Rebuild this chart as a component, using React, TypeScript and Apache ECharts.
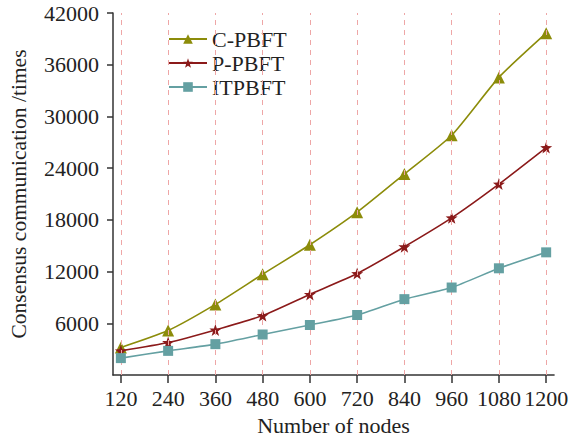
import React, { useEffect, useRef } from "react";
import * as echarts from "echarts";

const nodes = [120, 240, 360, 480, 600, 720, 840, 960, 1080, 1200];
const cPbft = [3200, 5160, 8190, 11690, 15110, 18890, 23310, 27810, 34530, 39660];
const pPbft = [2800, 3770, 5230, 6890, 9350, 11770, 14880, 18230, 22150, 26390];
const itPbft = [1960, 2800, 3580, 4700, 5800, 6960, 8800, 10150, 12380, 14230];
const yTicks = [6000, 12000, 18000, 24000, 30000, 36000, 42000];

const STAR =
  "path://M0,-10 L2.35,-3.24 L9.51,-3.09 L3.8,1.24 L5.88,8.09 L0,4 L-5.88,8.09 L-3.8,1.24 L-9.51,-3.09 L-2.35,-3.24 Z";

const FONT = "Liberation Serif";

export default function App() {
  const ref = useRef<HTMLDivElement>(null);
  useEffect(() => {
    if (!ref.current) return;
    const chart = echarts.init(ref.current, null, { renderer: "svg" });
    const pair = (arr: number[]) => nodes.map((n, i) => [n, arr[i]]);
    chart.setOption({
      animation: false,
      backgroundColor: "#fff",
      textStyle: { fontFamily: FONT },
      grid: { left: 104, right: 13, top: 13, bottom: 69 },
      legend: {
        left: 163,
        top: 23,
        orient: "vertical",
        itemWidth: 38,
        itemHeight: 12,
        itemGap: 2,
        textStyle: { fontFamily: FONT, fontSize: 22, color: "#222" },
        data: ["C-PBFT", "P-PBFT", "ITPBFT"],
      },
      xAxis: {
        type: "value",
        min: 100,
        max: 1220,
        name: "Number of nodes",
        nameLocation: "middle",
        nameGap: 39,
        nameTextStyle: { fontFamily: FONT, fontSize: 22, color: "#222" },
        axisLine: { lineStyle: { color: "#333", width: 1.5 } },
        axisTick: { customValues: nodes, length: 8, lineStyle: { color: "#333", width: 1.5 } },
        axisLabel: {
          customValues: nodes,
          margin: 12,
          fontFamily: FONT,
          fontSize: 22,
          color: "#222",
          formatter: (v: number) => String(v),
        },
        splitLine: { show: false },
      },
      yAxis: {
        type: "value",
        min: 0,
        max: 42000,
        interval: 6000,
        name: "Consensus communication /times",
        nameLocation: "middle",
        nameGap: 83,
        nameTextStyle: { fontFamily: FONT, fontSize: 21.5, color: "#222" },
        axisLine: { show: true, lineStyle: { color: "#333", width: 1.5 } },
        axisTick: { show: true, customValues: yTicks, length: 6, lineStyle: { color: "#333", width: 1.5 } },
        axisLabel: {
          customValues: yTicks,
          margin: 14,
          fontFamily: FONT,
          fontSize: 22,
          color: "#222",
          formatter: (v: number) => String(v),
        },
        splitLine: { show: false },
      },
      series: [
        {
          name: "C-PBFT",
          type: "line",
          data: pair(cPbft),
          smooth: 0.2,
          symbol: "triangle",
          symbolSize: 12,
          color: "#8c8c0a",
          lineStyle: { width: 1.6, color: "#8c8c0a" },
          itemStyle: { color: "#8c8c0a" },
          markLine: {
            silent: true,
            symbol: "none",
            label: { show: false },
            lineStyle: { type: [5, 5], color: "#eea6a6", width: 1 },
            data: nodes.map((n) => ({ xAxis: n })),
          },
          z: 3,
        },
        {
          name: "P-PBFT",
          type: "line",
          data: pair(pPbft),
          smooth: 0.2,
          symbol: STAR,
          symbolSize: 12,
          color: "#8b1a1a",
          lineStyle: { width: 1.6, color: "#8b1a1a" },
          itemStyle: { color: "#8b1a1a" },
          z: 4,
        },
        {
          name: "ITPBFT",
          type: "line",
          data: pair(itPbft),
          smooth: 0.2,
          symbol: "rect",
          symbolSize: 10,
          color: "#64a0a2",
          lineStyle: { width: 1.6, color: "#64a0a2" },
          itemStyle: { color: "#64a0a2" },
          z: 5,
        },
      ],
    });
    return () => chart.dispose();
  }, []);
  return (
    <div
      ref={ref}
      style={{ position: "fixed", left: 0, top: 0, width: 571, height: 444 }}
    />
  );
}
